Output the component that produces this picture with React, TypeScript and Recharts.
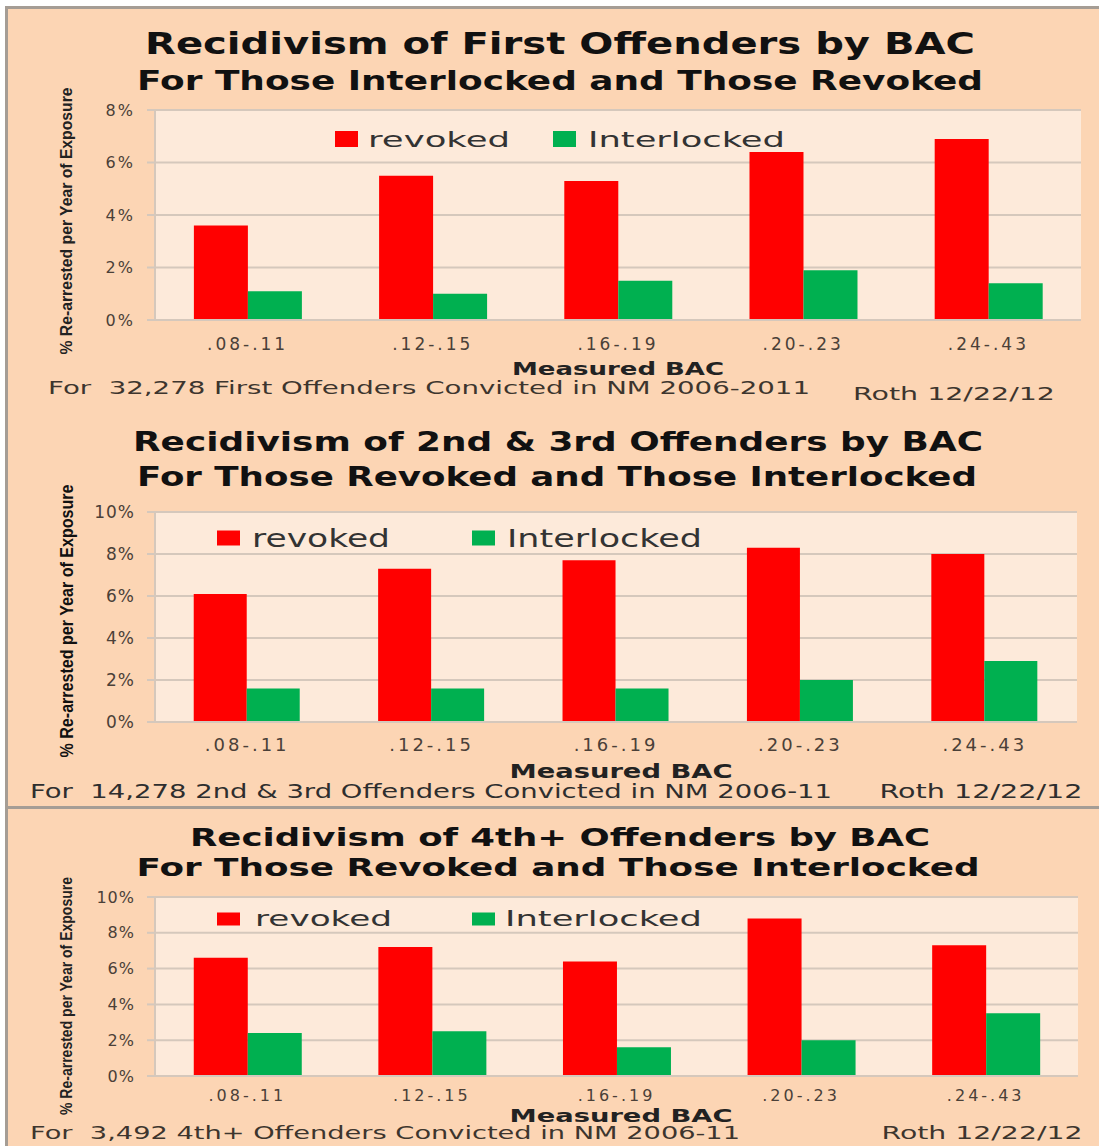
import { BarChart, Bar, XAxis, YAxis, CartesianGrid, Legend } from 'recharts';

const categories = ['.08-.11', '.12-.15', '.16-.19', '.20-.23', '.24-.43'];

const revokedFirst = [3.6, 5.5, 5.3, 6.4, 6.9];
const interlockedFirst = [1.1, 1.0, 1.5, 1.9, 1.4];

const revokedSecond = [6.1, 7.3, 7.7, 8.3, 8.0];
const interlockedSecond = [1.6, 1.6, 1.6, 2.0, 2.9];

const revokedFourth = [6.6, 7.2, 6.4, 8.8, 7.3];
const interlockedFourth = [2.4, 2.5, 1.6, 2.0, 3.5];

const ticksFirst = [0, 2, 4, 6, 8];
const ticksLater = [0, 2, 4, 6, 8, 10];

const seriesOrder = ['revoked', 'Interlocked'];

const RED = '#FF0000';
const GREEN = '#00B050';
const PANEL_BG = '#FCD5B4';
const PLOT_BG = '#FDEADA';
const GRID = '#D5C8BC';
const BORDER = '#A59D95';
const FONT = '"DejaVu Sans", Verdana, sans-serif';

const makeRows = (rev: number[], inter: number[]) =>
  categories.map((c, i) => ({ cat: c, revoked: rev[i], interlocked: inter[i] }));

type Txt = { t: string; x: number; y: number; w: number; fs: number; fw?: number; fill?: string; rot?: boolean; ff?: string };

type PanelCfg = {
  rows: any[];
  ticks: number[];
  top: number; // plot top
  bottom: number; // plot bottom
  right: number; // plot right
  yFont: number;
  ySpacing: number;
  xFont: number;
  xMargin: number;
  legend: { sq: number[]; tx: number[]; tw: number[]; y: number; fs: number; sqW: number; sqH: number };
  texts: Txt[];
};

const NB = '\u00a0';

const panels: PanelCfg[] = [
  {
    rows: makeRows(revokedFirst, interlockedFirst),
    ticks: ticksFirst,
    top: 110,
    bottom: 320,
    right: 1081,
    yFont: 16,
    ySpacing: 2,
    xFont: 17,
    xMargin: 18,
    legend: { sq: [335, 553], tx: [368, 588], tw: [142, 197], y: 139, fs: 22, sqW: 23, sqH: 16 },
    texts: [
      { t: 'Recidivism of First Offenders by BAC', x: 560, y: 43, w: 830, fs: 30, fw: 700, fill: '#111' },
      { t: 'For Those Interlocked and Those Revoked', x: 560, y: 81, w: 846, fs: 26, fw: 700, fill: '#111' },
      { t: 'Measured BAC', x: 618, y: 369, w: 212, fs: 17, fw: 700, fill: '#222' },
      { t: `For${NB} 32,278 First Offenders Convicted in NM 2006-2011`, x: 429, y: 388, w: 762, fs: 17, fill: '#3d352e' },
      { t: 'Roth 12/22/12', x: 954, y: 394, w: 202, fs: 17, fill: '#3d352e' },
      { t: '% Re-arrested per Year of Exposure', x: 66, y: 221, w: 267, fs: 17, fw: 700, rot: true, fill: '#222', ff: '"Liberation Sans Narrow", sans-serif' },
    ],
  },
  {
    rows: makeRows(revokedSecond, interlockedSecond),
    ticks: ticksLater,
    top: 512,
    bottom: 722,
    right: 1077,
    yFont: 17,
    ySpacing: 1,
    xFont: 18,
    xMargin: 16,
    legend: { sq: [217, 472], tx: [252, 507], tw: [138, 195], y: 538, fs: 25, sqW: 23, sqH: 15 },
    texts: [
      { t: 'Recidivism of 2nd & 3rd Offenders by BAC', x: 558, y: 441, w: 850, fs: 27, fw: 700, fill: '#111' },
      { t: 'For Those Revoked and Those Interlocked', x: 557, y: 476, w: 840, fs: 27, fw: 700, fill: '#111' },
      { t: 'Measured BAC', x: 621, y: 771, w: 223, fs: 19, fw: 700, fill: '#222' },
      { t: `For${NB} 14,278 2nd & 3rd Offenders Convicted in NM 2006-11`, x: 431, y: 791, w: 802, fs: 19, fill: '#2e2e2e' },
      { t: 'Roth 12/22/12', x: 981, y: 791, w: 203, fs: 19, fill: '#2e2e2e' },
      { t: '% Re-arrested per Year of Exposure', x: 66, y: 621, w: 273, fs: 19, fw: 700, rot: true, fill: '#111', ff: '"Liberation Sans Narrow", sans-serif' },
    ],
  },
  {
    rows: makeRows(revokedFourth, interlockedFourth),
    ticks: ticksLater,
    top: 897,
    bottom: 1076,
    right: 1078,
    yFont: 16,
    ySpacing: 1,
    xFont: 16,
    xMargin: 14,
    legend: { sq: [217, 472], tx: [255, 505], tw: [137, 197], y: 919, fs: 21, sqW: 23, sqH: 13 },
    texts: [
      { t: 'Recidivism of 4th+ Offenders by BAC', x: 560, y: 838, w: 740, fs: 24, fw: 700, fill: '#111' },
      { t: 'For Those Revoked and Those Interlocked', x: 558, y: 868, w: 843, fs: 24, fw: 700, fill: '#111' },
      { t: 'Measured BAC', x: 621, y: 1116, w: 223, fs: 17, fw: 700, fill: '#222' },
      { t: `For${NB} 3,492 4th+ Offenders Convicted in NM 2006-11`, x: 385, y: 1133, w: 710, fs: 17, fill: '#3d352e' },
      { t: 'Roth 12/22/12', x: 982, y: 1133, w: 201, fs: 17, fill: '#3d352e' },
      { t: '% Re-arrested per Year of Exposure', x: 66, y: 996, w: 238, fs: 16, fw: 700, rot: true, fill: '#222', ff: '"Liberation Sans Narrow", sans-serif' },
    ],
  },
];

const PAD = 16;

function Panel({ cfg }: { cfg: PanelCfg }) {
  const chartTop = cfg.top - PAD;
  const plotH = cfg.bottom - cfg.top;
  const lg = cfg.legend;
  const renderLegend = (props: any) => {
    const items = [...(props.payload || [])].sort(
      (a: any, b: any) => seriesOrder.indexOf(a.value) - seriesOrder.indexOf(b.value)
    );
    const cy = lg.y - chartTop;
    return (
      <div style={{ position: 'relative', height: 0 }}>
        <svg width={1099} height={cy + 30} style={{ position: 'absolute', left: 0, top: 0, overflow: 'visible' }}>
          {items.map((p: any, i: number) => (
            <g key={p.value}>
              <rect x={lg.sq[i]} y={cy - lg.sqH / 2} width={lg.sqW} height={lg.sqH} fill={p.color} />
              <text
                x={lg.tx[i]}
                y={cy}
                dominantBaseline="central"
                fontFamily={FONT}
                fontSize={lg.fs}
                fill="#333"
                textLength={lg.tw[i]}
                lengthAdjust="spacingAndGlyphs"
              >
                {p.value}
              </text>
            </g>
          ))}
        </svg>
      </div>
    );
  };
  return (
    <div style={{ position: 'absolute', left: 0, top: chartTop }}>
      <BarChart
        width={1099}
        height={plotH + PAD + 45}
        data={cfg.rows}
        margin={{ top: PAD, right: 1099 - cfg.right, left: 0, bottom: 0 }}
        barCategoryGap="21%"
        barGap={0}
      >
        <CartesianGrid vertical={false} fill={PLOT_BG} stroke={GRID} strokeWidth={2} />
        <XAxis
          dataKey="cat"
          height={45}
          interval={0}
          tickLine={false}
          tickSize={0}
          tickMargin={cfg.xMargin}
          axisLine={{ stroke: GRID, strokeWidth: 2 }}
          tick={{ fill: '#4a4038', fontSize: cfg.xFont, fontFamily: FONT, letterSpacing: 3 }}
        />
        <YAxis
          width={155}
          domain={[0, cfg.ticks[cfg.ticks.length - 1]]}
          ticks={cfg.ticks}
          interval={0}
          tickFormatter={(v: number) => `${v}%`}
          tickSize={8}
          tickMargin={12}
          tickLine={{ stroke: GRID, strokeWidth: 2 }}
          axisLine={{ stroke: GRID, strokeWidth: 2 }}
          tick={{ fill: '#4a4038', fontSize: cfg.yFont, fontFamily: FONT, letterSpacing: cfg.ySpacing }}
        />
        <Legend content={renderLegend} wrapperStyle={{ left: 0, top: 0, width: 1099, height: 0 }} />
        <Bar dataKey="revoked" name="revoked" fill={RED} isAnimationActive={false} />
        <Bar dataKey="interlocked" name="Interlocked" fill={GREEN} isAnimationActive={false} />
      </BarChart>
    </div>
  );
}

export default function App() {
  return (
    <div style={{ position: 'absolute', left: 0, top: 0, width: 1099, height: 1146, overflow: 'hidden', background: '#fff' }}>
      <div style={{ position: 'absolute', left: 5, top: 6, width: 1200, height: 398, background: PANEL_BG, border: `3px solid ${BORDER}` }} />
      <div style={{ position: 'absolute', left: 5, top: 406, width: 1200, height: 400, background: PANEL_BG, borderLeft: `3px solid ${BORDER}`, borderBottom: `3px solid ${BORDER}` }} />
      <div style={{ position: 'absolute', left: 5, top: 809, width: 1200, height: 400, background: PANEL_BG, borderLeft: `3px solid ${BORDER}` }} />
      {panels.map((p, i) => (
        <Panel key={i} cfg={p} />
      ))}
      <svg width={1099} height={1146} style={{ position: 'absolute', left: 0, top: 0, pointerEvents: 'none' }}>
        {panels.flatMap((p, i) =>
          p.texts.map((t, j) => (
            <text
              key={`${i}-${j}`}
              x={t.x}
              y={t.y}
              textAnchor="middle"
              dominantBaseline="central"
              fontFamily={t.ff || FONT}
              fontSize={t.fs}
              fontWeight={t.fw || 400}
              fill={t.fill || '#333'}
              textLength={t.w}
              lengthAdjust="spacingAndGlyphs"
              transform={t.rot ? `rotate(-90 ${t.x} ${t.y})` : undefined}
            >
              {t.t}
            </text>
          ))
        )}
      </svg>
    </div>
  );
}
